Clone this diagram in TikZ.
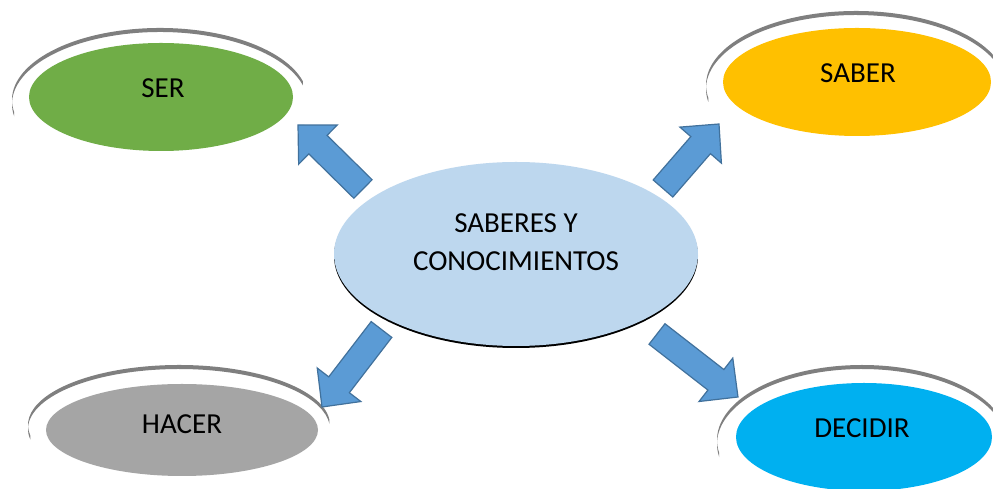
\documentclass[tikz,border=0pt]{standalone}
\usepackage{fontspec}
\setmainfont{Carlito}
\usetikzlibrary{shapes.geometric,calc}
\definecolor{sergreen}{HTML}{70AD47}
\definecolor{sabergold}{HTML}{FFC000}
\definecolor{hacergray}{HTML}{A5A5A5}
\definecolor{decidircyan}{HTML}{00B0F0}
\definecolor{cenblue}{HTML}{BDD7EE}
\definecolor{arrblue}{HTML}{5B9BD5}
\definecolor{arrborder}{HTML}{41719C}
\definecolor{ringgray}{HTML}{7F7F7F}
\tikzset{
  bubble/.style={ellipse, inner sep=0pt, draw=none},
  lbl/.style={font=\fontsize{29}{38}\selectfont, text=black, inner sep=0pt, align=center},
  ringfill/.style={fill=ringgray},
  blockarr/.style={fill=arrblue, draw=arrborder, line width=1.2pt, line join=miter},
}
\newcommand{\ringarc}[7]{%
  \coordinate (#1) at (#2,#3);
  \fill[ringfill] ($(#1)+(#6:#4pt and #5pt)$) arc[start angle=#6,end angle=#7,x radius=#4pt,y radius=#5pt]
    -- ($(#1)+(0,-4)+(#7:#4pt and #5pt)$) arc[start angle=#7,end angle=#6,x radius=#4pt,y radius=#5pt] -- cycle;
}
\newcommand{\blockarrow}[2]{%
  \coordinate (ba) at ($(#2)!28pt!(#1)$);
  \draw[blockarr] ($(#1)!13pt!90:(#2)$) -- ($(ba)!13pt!90:(#2)$) -- ($(ba)!27.5pt!90:(#2)$) -- (#2)
    -- ($(ba)!27.5pt!-90:(#2)$) -- ($(ba)!13pt!-90:(#2)$) -- ($(#1)!13pt!-90:(#2)$) -- cycle;
}
\begin{document}
\begin{tikzpicture}[x=1pt,y=1pt]
\useasboundingbox (0,0) rectangle (993,489);
\clip (0,0) rectangle (993,489);
\fill[white] (0,0) rectangle (993,489);
% outer rings
\ringarc{serring}{160}{389}{148}{72}{15}{190}
\ringarc{saberring}{856}{404}{150}{74}{5}{190}
\ringarc{decidirring}{862}{49}{145}{75}{0}{190}
\ringarc{hacerring}{179}{64}{151}{60}{5}{190}
% ellipses
\node[bubble, fill=sergreen, minimum width=264pt, minimum height=108pt] (ser) at (161,392) {};
\node[lbl] (sert) at (163,401) {SER};
\node[bubble, fill=sabergold, minimum width=268pt, minimum height=108pt] (saber) at (857,407) {};
\node[lbl] (sabert) at (858,416) {SABER};
\node[bubble, fill=decidircyan, minimum width=256pt, minimum height=108pt] (decidir) at (864,52) {};
\node[lbl] (decidirt) at (862,61) {DECIDIR};
\node[bubble, fill=hacergray, minimum width=272pt, minimum height=92pt] (hacer) at (182,59) {};
\node[lbl] (hacert) at (182,65) {HACER};
% central
\node[bubble, fill=black, minimum width=364pt, minimum height=184pt] (censh) at (516,233) {};
\node[bubble, fill=cenblue, minimum width=364pt, minimum height=184pt] (cen) at (516,235) {};
\node[lbl] (cent) at (516,247) {SABERES Y\\CONOCIMIENTOS};
% arrows
\coordinate (a1t) at (363,300);   \coordinate (a1h) at (298,364);
\coordinate (a2t) at (381.5,159.5); \coordinate (a2h) at (322,82);
\coordinate (a3t) at (657,155);   \coordinate (a3h) at (738,92);
\coordinate (a4t) at (663,300.5); \coordinate (a4h) at (719,365);
\blockarrow{a1t}{a1h}
\blockarrow{a2t}{a2h}
\blockarrow{a3t}{a3h}
\blockarrow{a4t}{a4h}
\end{tikzpicture}
\end{document}
